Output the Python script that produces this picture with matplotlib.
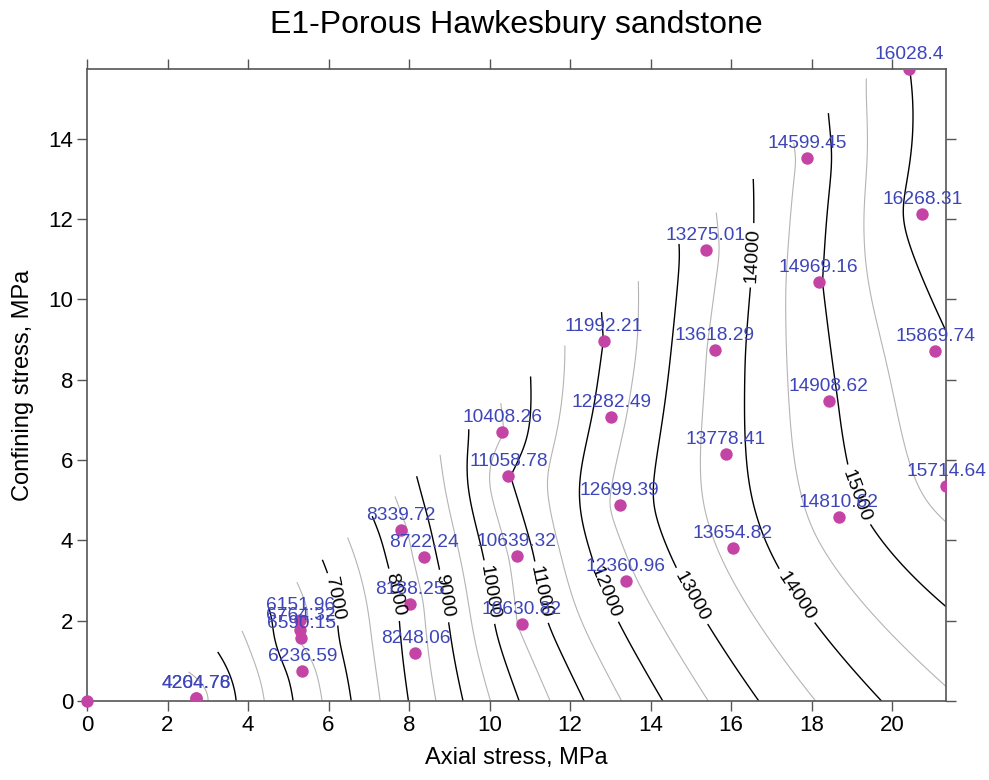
# Module d'Young interpole (krigeage lineaire) sur le plan contrainte axiale /
# contrainte de confinement, E1 - gres poreux de Hawkesbury.
import numpy as np
import matplotlib
matplotlib.use("Agg")
import matplotlib.pyplot as plt

plt.rcParams["font.family"] = ["Liberation Sans", "DejaVu Sans"]

# essais (MPa, MPa, valeur)
axial = [2.71, 2.71, 5.30, 5.30, 5.32, 5.35, 7.79, 8.36, 8.03, 8.16,
         10.32, 10.47, 10.67, 10.80, 12.84, 13.03, 13.23, 13.38,
         15.37, 15.60, 15.87, 16.04, 17.89, 18.18, 18.43, 18.68,
         20.42, 20.75, 21.07, 21.34]
confinement = [0.07, 0.07, 2.02, 1.77, 1.57, 0.75, 4.26, 3.59, 2.42, 1.20,
               6.70, 5.60, 3.61, 1.92, 8.97, 7.07, 4.88, 2.99,
               11.23, 8.74, 6.15, 3.81, 13.52, 10.44, 7.47, 4.58,
               15.74, 12.13, 8.72, 5.35]
valeurs = [4204.76, 4264.78, 6151.96, 6764.32, 6590.15, 6236.59, 8339.72,
           8722.24, 8188.25, 8248.06, 10408.26, 11058.78, 10639.32, 10630.82,
           11992.21, 12282.49, 12699.39, 12360.96, 13275.01, 13618.29,
           13778.41, 13654.82, 14599.45, 14969.16, 14908.62, 14810.62,
           16028.4, 16268.31, 15869.74, 15714.64]
etiquettes = ["4204.76", "4264.78", "6151.96", "6764.32", "6590.15", "6236.59",
              "8339.72", "8722.24", "8188.25", "8248.06", "10408.26",
              "11058.78", "10639.32", "10630.82", "11992.21", "12282.49",
              "12699.39", "12360.96", "13275.01", "13618.29", "13778.41",
              "13654.82", "14599.45", "14969.16", "14908.62", "14810.62",
              "16028.4", "16268.31", "15869.74", "15714.64"]
# point a l'origine, sans valeur
origine_x, origine_y = [0.0], [0.0]

niveaux_fins = np.arange(4500, 16500, 1000)
niveaux_forts = np.arange(5000, 16001, 1000)
# emplacements des etiquettes de contour (approximatifs, on prend le plus proche)
places = [(6.04, 2.52), (7.41, 2.59), (8.73, 2.59), (9.85, 2.69), (11.19, 2.69),
          (12.84, 2.69), (15.0, 2.6), (17.6, 2.6), (16.54, 11.1), (19.15, 5.13)]

MAGENTA = "#c444a6"
BLEU = "#3d45b8"
MARGE = 0.7       # debord du maillage au-dessus de l'enveloppe des essais
LISSAGE = 0.3


def krigeage(px, py, pz, gx, gy, lissage=LISSAGE):
    """variogramme lineaire, krigeage ordinaire en forme duale"""
    P = np.column_stack([px, py])
    n = len(P)
    D = np.hypot(P[:, None, 0] - P[None, :, 0], P[:, None, 1] - P[None, :, 1])
    A = np.zeros((n + 1, n + 1))
    A[:n, :n] = -D + lissage * np.eye(n)
    A[:n, n] = 1
    A[n, :n] = 1
    b = np.linalg.solve(A, np.r_[pz, 0])
    R = np.hypot(gx[..., None] - P[:, 0], gy[..., None] - P[:, 1])
    return -(R @ b[:n]) + b[n]


def enveloppe_haute(px, py):
    """enveloppe convexe superieure, coupee au point le plus haut"""
    pts = sorted(set(zip(px, py)))
    h = []
    for p in pts:
        while len(h) >= 2 and ((h[-1][0] - h[-2][0]) * (p[1] - h[-2][1])
                               - (h[-1][1] - h[-2][1]) * (p[0] - h[-2][0])) >= 0:
            h.pop()
        h.append(p)
    h = np.array(h)
    return h[:np.argmax(h[:, 1]) + 1]


ax_ = np.array(axial)
cf = np.array(confinement)
gx, gy = np.meshgrid(np.linspace(0, ax_.max(), 320), np.linspace(0, cf.max(), 240))
Z = krigeage(ax_, cf, np.array(valeurs), gx, gy)
env = enveloppe_haute(ax_, cf)
Z = np.ma.masked_where(gy > np.interp(gx, env[:, 0], env[:, 1]) + MARGE, Z)

fig = plt.figure(figsize=(9.89, 7.80), dpi=100)
ax = fig.add_axes([0.088, 0.1013, 0.8685, 0.8102])
ax.contour(gx, gy, Z, levels=niveaux_fins, colors="#b4b4b4", linewidths=0.8)
cs = ax.contour(gx, gy, Z, levels=niveaux_forts, colors="black", linewidths=1.0)
ax.clabel(cs, fmt="%d", fontsize=14, inline=True, manual=places)

ax.scatter(ax_, cf, s=80, color=MAGENTA, zorder=3, linewidths=0)
ax.scatter(origine_x, origine_y, s=80, color=MAGENTA, zorder=3, linewidths=0,
           clip_on=False)
for x, y, t in zip(axial, confinement, etiquettes):
    ax.annotate(t, (x, y), xytext=(0, 7), textcoords="offset points",
                ha="center", va="baseline", fontsize=13.8, color=BLEU,
                annotation_clip=False, zorder=4)

ax.set_xlim(0, ax_.max())
ax.set_ylim(0, cf.max())
ax.set_xticks(np.arange(0, 21, 2))
ax.set_yticks(np.arange(0, 15, 2))
ax.tick_params(direction="out", top=True, right=True, length=7, width=1,
               color="#555555", labelsize=16, pad=3)
for s in ax.spines.values():
    s.set_color("#555555")
    s.set_linewidth(1.2)
ax.set_xlabel("Axial stress, MPa", fontsize=17, labelpad=8)
ax.set_ylabel("Confining stress, MPa", fontsize=17, labelpad=10)
ax.set_title("E1-Porous Hawkesbury sandstone", fontsize=23, pad=26)

fig.savefig("out.png", dpi=100)
